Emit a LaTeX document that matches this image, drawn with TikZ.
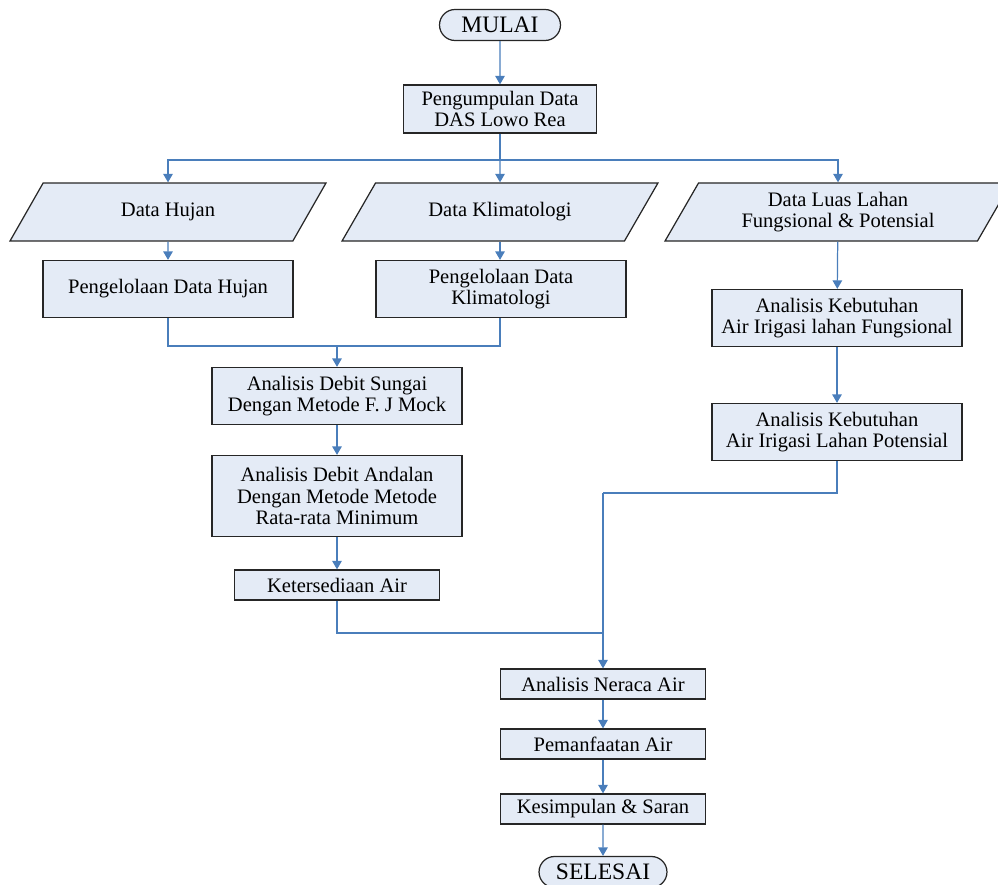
\documentclass[tikz,border=0pt]{standalone}
\usepackage{fontspec}
\setmainfont{Liberation Serif}
\usetikzlibrary{arrows.meta,shapes.geometric,shapes.misc}

\definecolor{boxfill}{RGB}{228,235,246}
\definecolor{flowblue}{RGB}{74,126,187}

\tikzset{
    box/.style={draw=black!85, line width=0.7pt, fill=boxfill, align=center,
        inner sep=2pt, font=\fontsize{11.7}{12.4}\selectfont},
    datain/.style={box, trapezium, trapezium left angle=60, trapezium right angle=120,
        trapezium stretches body, inner ysep=11.2pt, minimum height=1.16cm,
        minimum width=6.32cm},
    terminal/.style={box, rounded rectangle, minimum height=0.62cm,
        font=\fontsize{13.4}{14}\selectfont},
    line/.style={draw=flowblue, line width=0.7pt},
    flow/.style={line, -{Triangle[length=0.17cm, width=0.19cm]}}
}

\begin{document}
\begin{tikzpicture}[x=0.02cm, y=-0.02cm]

    \useasboundingbox (0,0) rectangle (998,885);

    % Start and data collection
    \node[terminal, minimum width=2.56cm] (mulai) at (500,25) {MULAI};
    \node[box, minimum width=3.86cm, minimum height=0.96cm] (kumpul) at (500,109)
        {Pengumpulan Data\\DAS Lowo Rea};

    % Input data
    \node[datain] (hujan) at (168,212) {Data Hujan};
    \node[datain] (klimat) at (500,212) {Data Klimatologi};
    \node[datain, inner ysep=5pt, minimum width=6.92cm] (luas) at (838,212)
        {Data Luas Lahan\\Fungsional \& Potensial};

    % Processing of rain and climate data
    \node[box, minimum width=5cm, minimum height=1.14cm] (olahhujan) at (168,289)
        {Pengelolaan Data Hujan};
    \node[box, minimum width=5cm, minimum height=1.14cm] (olahklimat) at (501,289)
        {Pengelolaan Data\\Klimatologi};

    % River discharge and water availability
    \node[box, minimum width=5cm, minimum height=1.14cm] (debit) at (337,396)
        {Analisis Debit Sungai\\Dengan Metode F. J Mock};
    \node[box, minimum width=5cm, minimum height=1.62cm] (andalan) at (337,496)
        {Analisis Debit Andalan\\Dengan Metode Metode\\Rata-rata Minimum};
    \node[box, minimum width=4.1cm, minimum height=0.6cm] (sedia) at (337,585)
        {Ketersediaan Air};

    % Irrigation water demand
    \node[box, minimum width=5cm, minimum height=1.14cm] (fungsi) at (837,318)
        {Analisis Kebutuhan\\Air Irigasi lahan Fungsional};
    \node[box, minimum width=5cm, minimum height=1.14cm] (potensi) at (837,432)
        {Analisis Kebutuhan\\Air Irigasi Lahan Potensial};

    % Water balance and conclusion
    \node[box, minimum width=4.1cm, minimum height=0.6cm] (neraca) at (603,684)
        {Analisis Neraca Air};
    \node[box, minimum width=4.1cm, minimum height=0.6cm] (manfaat) at (603,744)
        {Pemanfaatan Air};
    \node[box, minimum width=4.1cm, minimum height=0.6cm] (simpul) at (603,809)
        {Kesimpulan \& Saran};
    \node[terminal, minimum width=2.7cm] (selesai) at (603,872) {SELESAI};

    % Junction points
    \coordinate (split) at (500,160);
    \coordinate (merge1) at (337,346);
    \coordinate (bend) at (603,493);
    \coordinate (merge2) at (603,633);

    % Connectors
    \draw[flow] (mulai) -- (kumpul);
    \draw[line] (kumpul) -- (split);
    \draw[flow] (split) -| (hujan.north);
    \draw[flow] (split) -- (klimat.north);
    \draw[flow] (split) -| (luas.north);

    \draw[flow] (hujan) -- (olahhujan);
    \draw[flow] (klimat.south) -- (klimat.south |- olahklimat.north);
    \draw[line] (olahhujan) |- (merge1);
    \draw[line] (olahklimat.south -| klimat.south) |- (merge1);
    \draw[flow] (merge1) -- (debit);
    \draw[flow] (debit) -- (andalan);
    \draw[flow] (andalan) -- (sedia);

    \draw[flow] (luas) -- (fungsi);
    \draw[flow] (fungsi) -- (potensi);
    \draw[line] (potensi) |- (bend);
    \draw[line] (sedia) |- (merge2);
    \draw[flow] (bend) -- (neraca);

    \draw[flow] (neraca) -- (manfaat);
    \draw[flow] (manfaat) -- (simpul);
    \draw[flow] (simpul) -- (selesai);

\end{tikzpicture}
\end{document}
